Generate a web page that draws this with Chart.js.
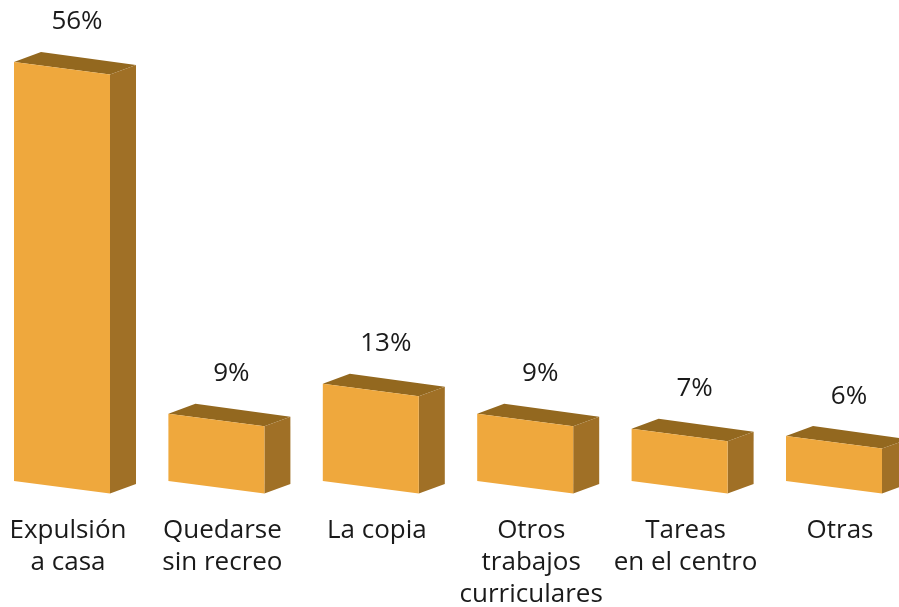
<!DOCTYPE html>
<html>
<head>
<meta charset="utf-8">
<script src="https://cdn.jsdelivr.net/npm/chart.js@4"></script>
<style>
  html, body { margin: 0; padding: 0; background: #fff; }
  canvas { display: block; }
</style>
</head>
<body>
<canvas id="chart" width="899" height="607"></canvas>
<script>
const categories = [
    ['Expulsión', 'a casa'],
    ['Quedarse', 'sin recreo'],
    ['La copia'],
    ['Otros', 'trabajos', 'curriculares'],
    ['Tareas', 'en el centro'],
    ['Otras'],
];
const values = [56, 9, 13, 9, 7, 6];

const FRONT = '#efa83d';
const TOP = '#93681f';
const SIDE = '#a07026';
const FONT = '"Open Sans", Lato, sans-serif';

// front face is sheared a little, depth goes up and right
const SHEAR = 12.5;
const DEPTH_X = 26;
const DEPTH_Y = -9.5;

function poly(ctx, pts, color) {
    ctx.beginPath();
    ctx.moveTo(pts[0][0], pts[0][1]);
    for (let i = 1; i < pts.length; i++) {
        ctx.lineTo(pts[i][0], pts[i][1]);
    }
    ctx.closePath();
    ctx.fillStyle = color;
    ctx.fill();
}

const boxes = {
    id: 'boxes',
    afterDatasetsDraw(chart) {
        const ctx = chart.ctx;
        const meta = chart.getDatasetMeta(0);
        ctx.save();
        meta.data.forEach((bar, i) => {
            const { x, y, base, width } = bar.getProps(['x', 'y', 'base', 'width'], true);
            const l = x - width / 2;
            const r = x + width / 2;

            poly(ctx, [
                [l, y], [l + DEPTH_X + 1, y + DEPTH_Y - 0.5],
                [r + DEPTH_X, y + SHEAR + DEPTH_Y], [r, y + SHEAR],
            ], TOP);
            poly(ctx, [
                [r, y + SHEAR], [r + DEPTH_X, y + SHEAR + DEPTH_Y],
                [r + DEPTH_X, base + SHEAR + DEPTH_Y], [r, base + SHEAR],
            ], SIDE);
            poly(ctx, [
                [l, y], [r, y + SHEAR], [r, base + SHEAR], [l, base],
            ], FRONT);

            ctx.fillStyle = '#1a1a1a';
            ctx.font = '26px ' + FONT;
            ctx.textAlign = 'center';
            ctx.textBaseline = 'middle';
            ctx.fillText(values[i] + '%', x + 15, y - 40);
        });
        ctx.restore();
    },
};

new Chart(document.getElementById('chart'), {
    type: 'bar',
    data: {
        labels: categories,
        datasets: [{
            data: values,
            backgroundColor: 'rgba(0,0,0,0)',
            barThickness: 96,
        }],
    },
    options: {
        responsive: false,
        animation: false,
        layout: {
            padding: { top: 62, left: 62, right: 65, bottom: 0 },
        },
        scales: {
            x: {
                offset: false,
                grid: { display: false, drawTicks: false },
                border: { display: false },
                ticks: {
                    autoSkip: false,
                    maxRotation: 0,
                    minRotation: 0,
                    padding: 34,
                    labelOffset: 6,
                    color: '#1a1a1a',
                    font: { family: FONT, size: 26, lineHeight: '32px' },
                },
                afterFit(scale) {
                    scale.height = 126;
                    scale.paddingLeft = 0;
                    scale.paddingRight = 0;
                },
            },
            y: {
                display: false,
                min: 0,
                max: 56,
            },
        },
        plugins: {
            legend: { display: false },
            tooltip: { enabled: false },
        },
    },
    plugins: [boxes],
});
</script>
</body>
</html>
